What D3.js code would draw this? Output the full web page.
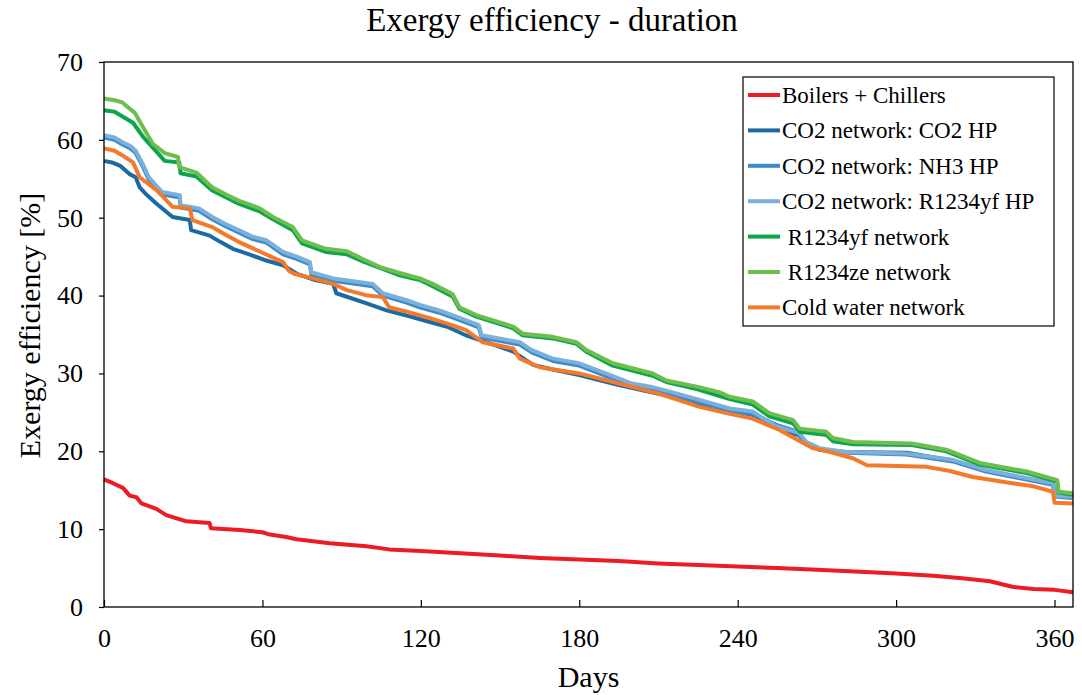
<!DOCTYPE html>
<html>
<head>
<meta charset="utf-8">
<script src="https://cdn.jsdelivr.net/npm/d3@7"></script>
<style>
  body { margin: 0; background: #fff; }
  text { font-family: "Liberation Serif", "Times New Roman", serif; fill: #000; }
</style>
</head>
<body>
<div id="chart"></div>
<script>
// duration curves, [day, exergy efficiency %]
const boilersChillers = [[0,16.4],[3.4,15.9],[7.2,15.3],[9.7,14.3],[12.3,14.1],[14.2,13.3],[19.8,12.6],[23.6,11.8],[31.2,11.0],[40,10.8],[40.5,10.1],[51.4,9.9],[60,9.6],[62.8,9.3],[69,9.0],[72.9,8.7],[85.5,8.2],[99.4,7.8],[108,7.4],[120,7.2],[135,6.9],[150,6.6],[165,6.3],[180,6.1],[195,5.9],[210,5.6],[225,5.4],[240,5.2],[255,5.0],[270,4.8],[282.5,4.6],[300,4.3],[314,4.0],[325,3.7],[335.5,3.3],[344,2.6],[352,2.3],[360,2.2],[367,1.9]]

const co2Co2hp = [[0,57.3],[3,57.1],[6,56.7],[9.7,55.6],[12,55.2],[13.5,53.9],[16,53.0],[19.9,51.8],[26,50.1],[32.5,49.7],[33,48.4],[40,47.7],[44,46.9],[48.8,46.0],[55,45.3],[61.5,44.5],[67.8,43.9],[73,42.8],[80,42.0],[86.8,41.5],[88,40.3],[99.5,39.0],[107,38.1],[115,37.4],[123.4,36.6],[130,36.0],[137,34.9],[145,34.0],[155,32.8],[162.5,31.1],[170,30.5],[180,29.8],[195,28.5],[210,27.4],[226.8,25.9],[237,25.2],[245.7,24.7],[254.7,23.0],[263.5,22.0],[266,20.9],[271,20.2],[281,19.9],[304,19.8],[321.5,18.8],[334,17.5],[346,16.7],[359.4,15.8],[360,14.4],[367,14.2]]

const co2Nh3hp = [[0,60.3],[4,60.0],[7,59.4],[10,58.9],[12,58.3],[14.5,56.7],[17,54.9],[22,53.0],[28.7,52.6],[29,51.3],[36,50.9],[41,49.8],[46,48.9],[51,48.1],[56,47.3],[61.5,46.8],[67.8,45.3],[73,44.7],[78,44.0],[78.5,42.7],[86.8,41.9],[95,41.5],[101.8,41.2],[105.6,40.0],[114.6,39.1],[119.6,38.5],[127,37.8],[135,36.8],[142,35.9],[143,34.6],[157.5,33.7],[162,32.7],[170,31.6],[180,31.0],[190,29.7],[200,28.4],[207,28.0],[215,27.3],[225.6,26.3],[237,25.2],[245.7,24.8],[254.7,23.4],[262,22.6],[266,21.0],[271,20.2],[281,19.8],[304,19.6],[321.5,18.7],[334,17.4],[346,16.6],[359.4,15.7],[360,14.2],[367,14.0]]

const co2R1234yfhp = [[0,60.6],[4,60.3],[7,59.7],[10,59.2],[12,58.6],[14.5,57.0],[17,55.2],[22,53.3],[28.7,52.9],[29,51.6],[36,51.2],[41,50.1],[46,49.2],[51,48.4],[56,47.6],[61.5,47.1],[67.8,45.6],[73,45.0],[78,44.3],[78.5,43.0],[86.8,42.2],[95,41.8],[101.8,41.5],[105.6,40.3],[114.6,39.4],[119.6,38.8],[127,38.1],[135,37.1],[142,36.2],[143,34.9],[157.5,34.0],[162,33.0],[170,31.9],[180,31.3],[190,30.0],[200,28.7],[207,28.3],[215,27.6],[225.6,26.6],[237,25.5],[245.7,25.1],[254.7,23.2],[263.5,22.3],[266,21.2],[271,20.4],[281,19.9],[304,19.7],[321.5,18.9],[334,17.6],[346,16.8],[359.4,15.9],[360,14.3],[367,14.2]]

const r1234yfNet = [[0,63.8],[4,63.6],[7,63.0],[11,62.2],[15,60.3],[18.5,59.0],[23,57.3],[28.5,57.1],[29,55.7],[35,55.3],[41,53.5],[51,51.8],[59,50.8],[64,49.8],[71.5,48.4],[75,46.7],[84,45.6],[92,45.3],[98,44.4],[112,42.6],[119.6,42.0],[124.5,41.2],[132,39.9],[134.6,38.3],[141,37.3],[155,35.8],[158.6,34.9],[170,34.5],[179,33.8],[182.7,32.8],[192.7,31.0],[207.8,29.7],[213,28.9],[224.5,28.0],[237,26.7],[245.7,26.0],[252,24.5],[261,23.6],[263.5,22.5],[273.6,22.1],[276,21.3],[283.6,20.9],[306,20.8],[319,20.0],[331.7,18.3],[349.5,17.2],[361,16.1],[361.5,14.7],[367,14.4]]

const r1234zeNet = [[0,65.3],[4,65.1],[7,64.8],[9,64.2],[11.6,63.5],[15,61.5],[18.5,59.5],[23,58.3],[28,57.8],[28.5,56.5],[35,55.8],[41,53.9],[46,53.0],[51,52.2],[59,51.2],[64,50.1],[71.5,48.8],[75,47.1],[84,46.0],[92,45.7],[98,44.7],[105,43.6],[112,42.9],[119.6,42.2],[124.5,41.5],[132,40.2],[134.6,38.5],[141,37.5],[155,36.0],[158.6,35.1],[170,34.7],[179,34.0],[182.7,33.0],[192.7,31.3],[207.8,30.0],[213,29.1],[224.5,28.3],[233,27.6],[237,27.0],[245.7,26.4],[252,24.9],[261,24.0],[263.5,22.9],[273.6,22.5],[276,21.7],[283.6,21.2],[306,21.0],[319,20.2],[331.7,18.5],[349.5,17.4],[361,16.3],[361.5,14.8],[367,14.6]]

const coldWater = [[0,58.9],[4,58.6],[7,58.0],[11,57.1],[13.5,55.2],[20,53.5],[26,51.4],[32.5,51.2],[33.5,49.7],[41,48.8],[46,47.8],[51,46.9],[60,45.5],[67.8,44.3],[70,43.2],[72,42.8],[78,42.3],[86.8,41.5],[92,40.7],[100,40.0],[105.6,39.8],[108,38.5],[115,37.9],[123.4,37.1],[130,36.4],[137,35.6],[143.5,34.0],[155,33.2],[157.5,31.9],[165,30.8],[180,30.0],[195,28.7],[210,27.4],[225.6,25.7],[237,24.8],[245.7,24.2],[256,22.7],[268.5,20.4],[275,19.9],[283.6,19.1],[289,18.2],[311.6,18.0],[320,17.5],[329,16.7],[344,15.9],[352,15.5],[359.4,14.8],[360,13.4],[367,13.3]]

const seriesNames = ["Boilers + Chillers", "CO2 network: CO2 HP", "CO2 network: NH3 HP",
  "CO2 network: R1234yf HP", " R1234yf network", " R1234ze network", "Cold water network"]
const seriesData = [boilersChillers, co2Co2hp, co2Nh3hp, co2R1234yfhp, r1234yfNet, r1234zeNet, coldWater]
const xTicks = [0, 60, 120, 180, 240, 300, 360]
const yTicks = [0, 10, 20, 30, 40, 50, 60, 70]

const width = 1082, height = 695,
  margin = ({top: 62, right: 9, bottom: 88, left: 104})

const color = d3.scaleOrdinal()
  .domain(seriesNames)
  .range(["#ec1c24", "#1b6aa3", "#3b8bc9", "#7bb0dc", "#0ba64c", "#6dbe4f", "#f47a2a"])

const x = d3.scaleLinear()
  .domain([0, 367])
  .range([margin.left, width - margin.right])

const y = d3.scaleLinear()
  .domain([0, 70])
  .range([height - margin.bottom, margin.top])

const svg = d3.select("#chart")
  .append("svg")
  .attr("width", width)
  .attr("height", height)

const line = d3.line()
  .x(d => x(d[0]))
  .y(d => y(d[1]))

svg.append("g")
  .attr("fill", "none")
  .attr("stroke-width", 4)
  .attr("stroke-linejoin", "round")
  .selectAll("path")
  .data(seriesData)
  .join("path")
    .attr("stroke", (d, i) => color(seriesNames[i]))
    .attr("d", line)

// frame
svg.append("rect")
  .attr("x", margin.left)
  .attr("y", margin.top)
  .attr("width", width - margin.right - margin.left)
  .attr("height", height - margin.bottom - margin.top)
  .attr("fill", "none")
  .attr("stroke", "#000")
  .attr("stroke-width", 1.3)

svg.append("g")
  .attr("transform", `translate(0,${height - margin.bottom})`)
  .call(d3.axisBottom(x).tickValues(xTicks).tickSizeInner(-7).tickSizeOuter(0).tickPadding(22))
  .call(g => g.select(".domain").remove())
  .call(g => g.selectAll("line").attr("stroke-width", 1.2))
  .call(g => g.selectAll("text").attr("font-size", 26).attr("font-family", "Liberation Serif"))

svg.append("g")
  .attr("transform", `translate(${margin.left},0)`)
  .call(d3.axisLeft(y).tickValues(yTicks).tickSize(5).tickPadding(16))
  .call(g => g.select(".domain").remove())
  .call(g => g.selectAll("line").attr("stroke-width", 1.2))
  .call(g => g.selectAll("text").attr("font-size", 26).attr("font-family", "Liberation Serif"))

svg.append("text")
  .attr("x", 552)
  .attr("y", 31)
  .attr("text-anchor", "middle")
  .attr("font-size", 33)
  .text("Exergy efficiency - duration")

svg.append("text")
  .attr("x", (margin.left + width - margin.right) / 2)
  .attr("y", 687)
  .attr("text-anchor", "middle")
  .attr("font-size", 30)
  .text("Days")

svg.append("text")
  .attr("transform", `translate(40,${(margin.top + height - margin.bottom) / 2 - 9}) rotate(-90)`)
  .attr("text-anchor", "middle")
  .attr("font-size", 30)
  .text("Exergy efficiency [%]")

// legend
const legend = svg.append("g")
  .attr("transform", "translate(743,77)")

legend.append("rect")
  .attr("width", 311)
  .attr("height", 249)
  .attr("fill", "#fff")
  .attr("stroke", "#000")
  .attr("stroke-width", 1.2)

const item = legend.selectAll("g")
  .data(seriesNames)
  .join("g")
    .attr("transform", (d, i) => `translate(0,${18 + i * 35.4})`)

item.append("line")
  .attr("x1", 5)
  .attr("x2", 37)
  .attr("stroke", color)
  .attr("stroke-width", 4)

item.append("text")
  .attr("x", 39)
  .attr("dy", "0.35em")
  .attr("font-size", 23)
  .attr("xml:space", "preserve")
  .style("white-space", "pre")
  .text(d => d)
</script>
</body>
</html>
